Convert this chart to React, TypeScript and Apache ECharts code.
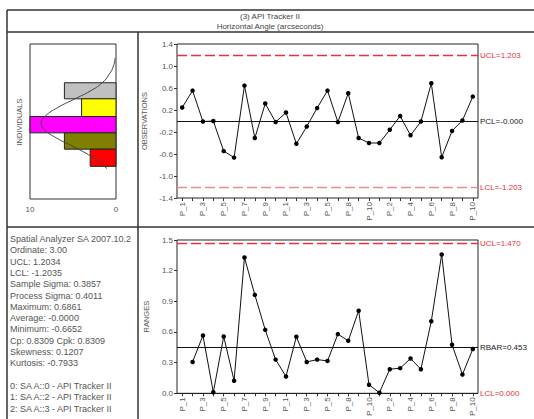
import React, { useEffect, useRef } from 'react';
import * as echarts from 'echarts';

const titleLines = ['(3) API Tracker II', 'Horizontal Angle (arcseconds)'];

const categories = [
  'P_1', 'P_2', 'P_3', 'P_4', 'P_5', 'P_6', 'P_7', 'P_8', 'P_9', 'P_10',
  'P_1', 'P_2', 'P_3', 'P_4', 'P_5', 'P_6', 'P_8', 'P_9', 'P_10',
  'P_1', 'P_2', 'P_3', 'P_4', 'P_5', 'P_6', 'P_7', 'P_8', 'P_9', 'P_10',
];

const observations = [
  0.245, 0.553, -0.01, 0.0, -0.547, -0.665, 0.644, -0.31, 0.317, -0.02,
  0.154, -0.414, -0.1, 0.235, 0.553, -0.02, 0.505, -0.31, -0.4, -0.4,
  -0.16, 0.09, -0.26, -0.01, 0.686, -0.66, -0.18, 0.01, 0.444,
];

const ranges = [
  null, 0.307, 0.566, 0.01, 0.556, 0.123, 1.329, 0.963, 0.621, 0.33,
  0.165, 0.553, 0.307, 0.33, 0.317, 0.579, 0.514, 0.808, 0.084, 0.006,
  0.236, 0.246, 0.34, 0.236, 0.705, 1.358, 0.475, 0.184, 0.433,
];

const obsLimits = [1.203, 0, -1.203];
const obsLimitLabels = ['UCL=1.203', 'PCL=-0.000', 'LCL=-1.203'];
const rangeLimits = [1.47, 0.453, 0];
const rangeLimitLabels = ['UCL=1.470', 'RBAR=0.453', 'LCL=0.000'];

// histogram (counts per bin, bins in observation units)
const binEdges = [0.70, 0.41, 0.09, -0.205, -0.50, -0.81];
const binCounts = [6, 4, 10, 6, 3];
const binColors = ['#c0c0c0', '#ffff00', '#ff00ff', '#808000', '#ff0000'];

const curveValues = [1.15, 1.0, 0.85, 0.7, 0.55, 0.4, 0.25, 0.1, -0.03, -0.15, -0.3, -0.45, -0.6, -0.75, -0.85];
const curveCounts = [0.1, 0.3, 0.8, 1.6, 3.0, 4.9, 6.8, 8.2, 8.7, 8.3, 6.9, 5.0, 3.2, 1.7, 1.1];

const statsLines = [
  'Spatial Analyzer SA 2007.10.2',
  'Ordinate: 3.00',
  'UCL: 1.2034',
  'LCL: -1.2035',
  'Sample Sigma: 0.3857',
  'Process Sigma: 0.4011',
  'Maximum: 0.6861',
  'Average: -0.0000',
  'Minimum: -0.6652',
  'Cp: 0.8309 Cpk: 0.8309',
  'Skewness: 0.1207',
  'Kurtosis: -0.7933',
  '',
  '0: SA A::0 - API Tracker II',
  '1: SA A::2 - API Tracker II',
  '2: SA A::3 - API Tracker II',
];

const FONT = '"Liberation Sans", Arial, sans-serif';
const RED = '#e8303a';
const GRAY_TEXT = '#555';

export default function App() {
  const ref = useRef<HTMLDivElement>(null);

  useEffect(() => {
    if (!ref.current) return;
    const chart = echarts.init(ref.current, undefined, { renderer: 'svg' });

    const frame = '#333';
    const lines = [
      [7, 10, 534, 10],
      [7, 10, 7, 419],
      [7, 32, 534, 32],
      [138, 32, 138, 419],
      [7, 227, 534, 227],
    ].map(([x1, y1, x2, y2]) => ({
      type: 'line',
      shape: { x1, y1, x2, y2 },
      style: { stroke: frame, lineWidth: 1.5 },
      silent: true,
    }));

    const textEl = (text: string, x: number, y: number, align: string, size: number, color: string, rotation = 0) => ({
      type: 'text',
      x,
      y,
      rotation,
      style: {
        text,
        fill: color,
        font: `${size}px ${FONT}`,
        fontSize: size,
        fontFamily: FONT,
        textAlign: align,
        align,
        textVerticalAlign: 'middle',
        verticalAlign: 'middle',
      },
      silent: true,
    });

    const texts: any[] = [
      textEl(titleLines[0], 270, 16, 'center', 8, '#444'),
      textEl(titleLines[1], 270, 26, 'center', 8, '#444'),
      textEl('INDIVIDUALS', 19, 122, 'center', 7.5, GRAY_TEXT, Math.PI / 2),
    ];
    statsLines.forEach((s, i) => {
      if (s) texts.push(textEl(s, 10, 239 + i * 11.3, 'left', 9, '#555'));
    });

    const xCat = (gridIndex: number) => ({
      type: 'category',
      gridIndex,
      data: categories,
      boundaryGap: true,
      axisLine: { show: false, onZero: false },
      axisTick: { show: true, interval: 0, alignWithLabel: true, length: 3, lineStyle: { color: '#333' } },
      axisLabel: { interval: 1, rotate: 90, fontSize: 8, color: GRAY_TEXT, fontFamily: FONT, margin: 4 },
      splitLine: { show: false },
    });

    const yVal = (gridIndex: number, min: number, max: number, interval: number, name: string) => ({
      type: 'value',
      gridIndex,
      min,
      max,
      interval,
      name,
      nameLocation: 'middle',
      nameRotate: 90,
      nameGap: 21,
      nameTextStyle: { fontSize: 7.5, color: GRAY_TEXT, fontFamily: FONT },
      axisLine: { show: false, onZero: false },
      axisTick: { show: true, length: 3, lineStyle: { color: '#333' } },
      splitLine: { show: false },
      axisLabel: { fontSize: 8, color: GRAY_TEXT, fontFamily: FONT, margin: 4, formatter: (v: number) => v.toFixed(1) },
    });

    const limitSeries = (axisIndex: number, value: number, text: string, lineColor: string, labelColor: string, dashed: boolean) => ({
      type: 'line',
      xAxisIndex: axisIndex,
      yAxisIndex: axisIndex,
      data: [],
      silent: true,
      z: 3,
      markLine: {
        silent: true,
        symbol: 'none',
        animation: false,
        lineStyle: { color: lineColor, type: dashed ? [10, 4] : 'solid', width: dashed ? 1.3 : 1 },
        label: {
          show: true,
          position: 'end',
          formatter: text,
          color: labelColor,
          fontSize: 8,
          fontFamily: FONT,
          distance: 2,
        },
        emphasis: { disabled: true },
        data: [{ yAxis: value }],
      },
    });

    const option: any = {
      animation: false,
      textStyle: { fontFamily: FONT },
      graphic: [...lines, ...texts],
      grid: [
        { left: 30, top: 44, width: 86, height: 155, show: true, borderColor: '#333', borderWidth: 1, backgroundColor: 'transparent' },
        { left: 177, top: 44, width: 301, height: 154, show: true, borderColor: '#222', borderWidth: 1, backgroundColor: 'transparent' },
        { left: 177, top: 240, width: 301, height: 154, show: true, borderColor: '#222', borderWidth: 1, backgroundColor: 'transparent' },
      ],
      xAxis: [
        {
          type: 'value',
          gridIndex: 0,
          min: 0,
          max: 10,
          interval: 10,
          inverse: true,
          axisLine: { show: false, onZero: false },
          axisTick: { show: false },
          splitLine: { show: false },
          axisLabel: { fontSize: 8, color: GRAY_TEXT, fontFamily: FONT, margin: 6 },
        },
        xCat(1),
        xCat(2),
      ],
      yAxis: [
        { type: 'value', gridIndex: 0, min: -1.4, max: 1.4, show: false },
        yVal(1, -1.4, 1.4, 0.4, 'OBSERVATIONS'),
        yVal(2, 0, 1.5, 0.3, 'RANGES'),
      ],
      series: [
        {
          type: 'custom',
          xAxisIndex: 0,
          yAxisIndex: 0,
          data: binCounts.map((c, i) => [c, binEdges[i + 1], binEdges[i]]),
          encode: { x: 0, y: [1, 2] },
          renderItem: (params: any, api: any) => {
            const c = api.value(0);
            const lo = api.value(1);
            const hi = api.value(2);
            const pTop = api.coord([c, hi]);
            const pBot = api.coord([0, lo]);
            return {
              type: 'rect',
              shape: {
                x: Math.min(pTop[0], pBot[0]),
                y: pTop[1],
                width: Math.abs(pBot[0] - pTop[0]),
                height: pBot[1] - pTop[1],
              },
              style: { fill: binColors[params.dataIndex], stroke: '#222', lineWidth: 1 },
            };
          },
          z: 2,
        },
        {
          type: 'line',
          xAxisIndex: 0,
          yAxisIndex: 0,
          data: curveCounts.map((c, i) => [c, curveValues[i]]),
          smooth: true,
          showSymbol: false,
          symbol: 'none',
          lineStyle: { color: '#444', width: 1 },
          z: 5,
        },
        limitSeries(1, obsLimits[0], obsLimitLabels[0], RED, RED, true),
        limitSeries(1, obsLimits[1], obsLimitLabels[1], '#111', '#222', false),
        limitSeries(1, obsLimits[2], obsLimitLabels[2], '#ee8a92', RED, true),
        limitSeries(2, rangeLimits[0], rangeLimitLabels[0], RED, RED, true),
        limitSeries(2, rangeLimits[1], rangeLimitLabels[1], '#111', '#222', false),
        limitSeries(2, rangeLimits[2], rangeLimitLabels[2], '#222', RED, false),
        {
          type: 'line',
          xAxisIndex: 1,
          yAxisIndex: 1,
          data: observations,
          symbol: 'circle',
          symbolSize: 4.5,
          itemStyle: { color: '#000' },
          lineStyle: { color: '#111', width: 1 },
          z: 5,
        },
        {
          type: 'line',
          xAxisIndex: 2,
          yAxisIndex: 2,
          data: ranges,
          symbol: 'circle',
          symbolSize: 4.5,
          itemStyle: { color: '#000' },
          lineStyle: { color: '#111', width: 1 },
          z: 5,
        },
      ],
    };

    chart.setOption(option);
    return () => chart.dispose();
  }, []);

  return (
    <div
      ref={ref}
      style={{ position: 'fixed', left: 0, top: 0, width: 534, height: 419, background: '#fff' }}
    />
  );
}
